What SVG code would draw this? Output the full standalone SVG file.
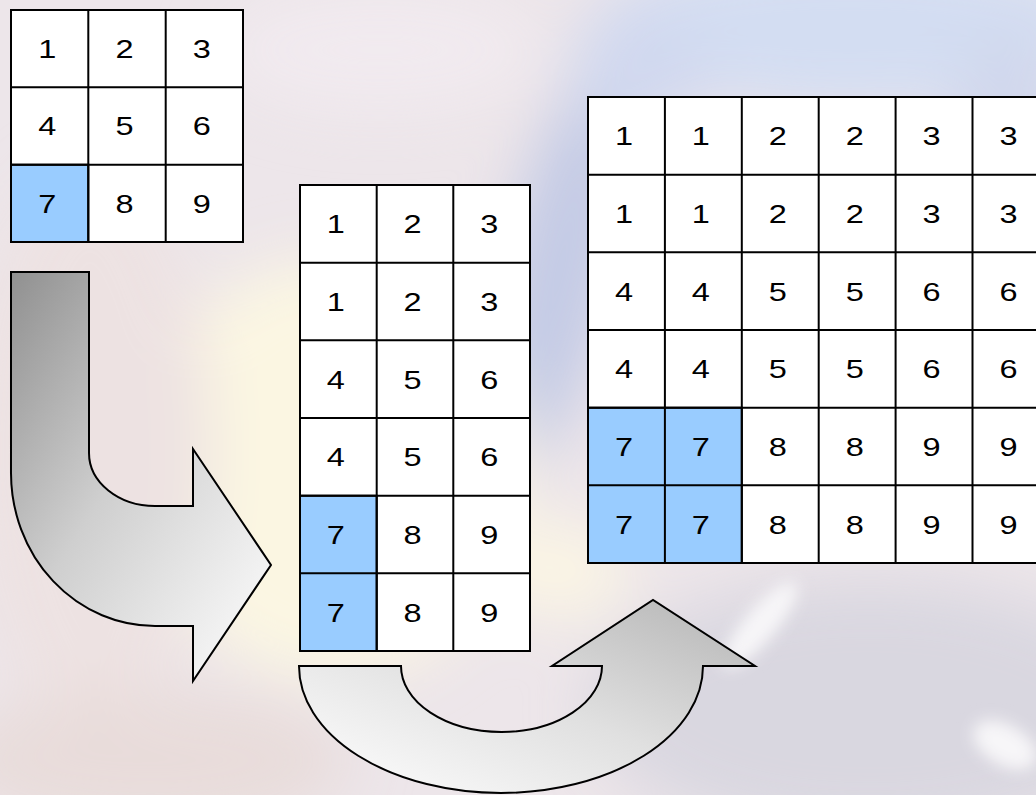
<svg xmlns="http://www.w3.org/2000/svg" width="1036" height="795" viewBox="0 0 1036 795">
<defs>
<style>
.cell{fill:#ffffff;stroke:#000;stroke-width:2}
.hl{fill:#99ccff;stroke:#000;stroke-width:2}
.ln{stroke:#000;stroke-width:2;fill:none}
.t{font-family:"Liberation Sans",Arial,sans-serif;font-size:26px;fill:#000;text-anchor:middle;transform-box:fill-box;transform-origin:center;transform:translate(-2.5px,0) scale(1.25,1)}
.arrow{stroke:#000;stroke-width:2;stroke-linejoin:miter}
</style>
<linearGradient id="g1" x1="0" y1="0" x2="1" y2="1">
<stop offset="0" stop-color="#909090"/>
<stop offset="0.45" stop-color="#cfcfcf"/>
<stop offset="1" stop-color="#ffffff"/>
</linearGradient>
<linearGradient id="g2" x1="0" y1="1" x2="1" y2="0">
<stop offset="0" stop-color="#ffffff"/>
<stop offset="0.5" stop-color="#e0e0e0"/>
<stop offset="1" stop-color="#b4b4b4"/>
</linearGradient>
<filter id="blur" x="-50%" y="-50%" width="200%" height="200%"><feGaussianBlur stdDeviation="30"/></filter>
<filter id="blur2" x="-50%" y="-50%" width="200%" height="200%"><feGaussianBlur stdDeviation="8"/></filter>
</defs>

<g id="background">
<rect x="0" y="0" width="1036" height="795" fill="#ede6ea"/>
<g filter="url(#blur)">
<ellipse cx="850" cy="30" rx="260" ry="80" fill="#d3ddf2"/>
<ellipse cx="380" cy="50" rx="160" ry="60" fill="#f1eaef"/>
<ellipse cx="560" cy="270" rx="55" ry="200" fill="#c3cae5" transform="rotate(12 560 270)"/>
<ellipse cx="640" cy="70" rx="70" ry="60" fill="#d0d8ef"/>
<ellipse cx="1010" cy="140" rx="60" ry="110" fill="#d0d7ec"/>
<ellipse cx="330" cy="470" rx="190" ry="210" fill="#fbf6e2"/>
<ellipse cx="90" cy="450" rx="120" ry="280" fill="#ede2e2"/>
<ellipse cx="870" cy="710" rx="280" ry="130" fill="#d9d7e0"/>
<ellipse cx="150" cy="760" rx="200" ry="70" fill="#e8dcda"/>
<ellipse cx="560" cy="570" rx="70" ry="50" fill="#faf4e4"/>
</g>
<g filter="url(#blur2)">
<ellipse cx="760" cy="625" rx="55" ry="16" fill="#f7f6f8" transform="rotate(-50 760 625)"/>
<ellipse cx="1005" cy="745" rx="35" ry="20" fill="#f7f6f8" transform="rotate(30 1005 745)"/>
</g>
</g>

<g id="connectors">
<path id="arrow1" class="arrow" fill="url(#g1)" d="M 11 272 L 89 272 L 89 453 A 66 53 0 0 0 155 506 L 193 506 L 193 449 L 271 565 L 193 681 L 193 626 L 155 626 A 144 153 0 0 1 11 473 Z"/>
<path id="arrow2" class="arrow" fill="url(#g2)" d="M 299 666 L 401 666 A 100.5 66 0 0 0 602 666 L 552 666 L 653 600 L 755 666 L 703 666 A 202 127 0 0 1 299 666 Z"/>
</g>

<g id="grid1">
<rect class="cell" x="11" y="10" width="232" height="232"/>
<rect class="hl" x="11" y="164.7" width="77.3" height="77.3"/>
<path class="ln" d="M88.3 10V242M165.7 10V242M11 87.3H243M11 164.7H243"/>
<text class="t" x="49.7" y="58.2">1</text><text class="t" x="127" y="58.2">2</text><text class="t" x="204.3" y="58.2">3</text>
<text class="t" x="49.7" y="135.5">4</text><text class="t" x="127" y="135.5">5</text><text class="t" x="204.3" y="135.5">6</text>
<text class="t" x="49.7" y="212.8">7</text><text class="t" x="127" y="212.8">8</text><text class="t" x="204.3" y="212.8">9</text>
</g>

<g id="grid2">
<rect class="cell" x="300" y="185" width="230" height="466"/>
<rect class="hl" x="300" y="495.7" width="76.7" height="155.3"/>
<path class="ln" d="M376.7 185V651M453.3 185V651M300 262.7H530M300 340.3H530M300 418H530M300 495.7H530M300 573.3H530"/>
<text class="t" x="338.3" y="233.3">1</text><text class="t" x="415" y="233.3">2</text><text class="t" x="491.7" y="233.3">3</text>
<text class="t" x="338.3" y="311">1</text><text class="t" x="415" y="311">2</text><text class="t" x="491.7" y="311">3</text>
<text class="t" x="338.3" y="388.7">4</text><text class="t" x="415" y="388.7">5</text><text class="t" x="491.7" y="388.7">6</text>
<text class="t" x="338.3" y="466.3">4</text><text class="t" x="415" y="466.3">5</text><text class="t" x="491.7" y="466.3">6</text>
<text class="t" x="338.3" y="544">7</text><text class="t" x="415" y="544">8</text><text class="t" x="491.7" y="544">9</text>
<text class="t" x="338.3" y="621.7">7</text><text class="t" x="415" y="621.7">8</text><text class="t" x="491.7" y="621.7">9</text>
</g>

<g id="grid3">
<rect class="cell" x="588" y="97" width="461.4" height="466"/>
<rect class="hl" x="588" y="407.7" width="153.8" height="155.3"/>
<path class="ln" d="M664.9 97V563M741.8 97V563M818.7 97V563M895.6 97V563M972.5 97V563M588 174.7H1049M588 252.3H1049M588 330H1049M588 407.7H1049M588 485.3H1049"/>
<text class="t" x="626.5" y="145.3">1</text><text class="t" x="703.4" y="145.3">1</text><text class="t" x="780.3" y="145.3">2</text><text class="t" x="857.2" y="145.3">2</text><text class="t" x="934.1" y="145.3">3</text><text class="t" x="1011" y="145.3">3</text>
<text class="t" x="626.5" y="223">1</text><text class="t" x="703.4" y="223">1</text><text class="t" x="780.3" y="223">2</text><text class="t" x="857.2" y="223">2</text><text class="t" x="934.1" y="223">3</text><text class="t" x="1011" y="223">3</text>
<text class="t" x="626.5" y="300.7">4</text><text class="t" x="703.4" y="300.7">4</text><text class="t" x="780.3" y="300.7">5</text><text class="t" x="857.2" y="300.7">5</text><text class="t" x="934.1" y="300.7">6</text><text class="t" x="1011" y="300.7">6</text>
<text class="t" x="626.5" y="378.3">4</text><text class="t" x="703.4" y="378.3">4</text><text class="t" x="780.3" y="378.3">5</text><text class="t" x="857.2" y="378.3">5</text><text class="t" x="934.1" y="378.3">6</text><text class="t" x="1011" y="378.3">6</text>
<text class="t" x="626.5" y="456">7</text><text class="t" x="703.4" y="456">7</text><text class="t" x="780.3" y="456">8</text><text class="t" x="857.2" y="456">8</text><text class="t" x="934.1" y="456">9</text><text class="t" x="1011" y="456">9</text>
<text class="t" x="626.5" y="533.7">7</text><text class="t" x="703.4" y="533.7">7</text><text class="t" x="780.3" y="533.7">8</text><text class="t" x="857.2" y="533.7">8</text><text class="t" x="934.1" y="533.7">9</text><text class="t" x="1011" y="533.7">9</text>
</g>
</svg>
